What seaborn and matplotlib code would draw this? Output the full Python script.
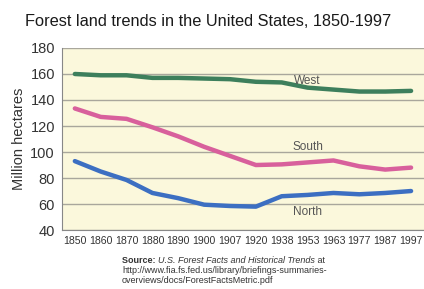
import numpy as np
import pandas as pd
import matplotlib
matplotlib.use('Agg')
import matplotlib.pyplot as plt
import seaborn as sns

years = ['1850', '1860', '1870', '1880', '1890', '1900', '1907',
         '1920', '1938', '1953', '1963', '1977', '1987', '1997']
west = [160, 159, 159, 157, 157, 156.5, 156, 154, 153.5, 149.5, 148, 146.5, 146.5, 147]
south = [133.5, 127, 125.5, 119, 112, 104, 97, 90, 90.5, 92, 93.5, 89, 86.5, 88]
north = [93, 85, 78.5, 68.5, 64.5, 59.5, 58.5, 58, 66, 67, 68.5, 67.5, 68.5, 70]
regions = ['West', 'South', 'North']
colors = {'West': '#3d7f5c', 'South': '#d8609c', 'North': '#3c6fc2'}

df = pd.DataFrame({
    'year': years * 3,
    'hectares': west + south + north,
    'region': np.repeat(regions, len(years)),
})

sns.set_style('white')
plt.rcParams['font.family'] = ['Liberation Sans', 'DejaVu Sans']

fig = plt.figure(figsize=(4.24, 2.89), dpi=100)
ax = fig.add_axes([0.146, 0.204, 0.854, 0.630])
ax.set_facecolor('#fbf8dc')

sns.lineplot(data=df, x='year', y='hectares', hue='region', palette=colors,
             linewidth=3.2, legend=False, ax=ax, sort=False)

ax.set_xlim(-0.5, len(years) - 0.5)
ax.set_ylim(40, 180)
ax.set_yticks(range(40, 181, 20))
ax.grid(True, axis='y', color='#a9a79c', linewidth=1)
ax.set_axisbelow(True)
ax.set_xticks(np.arange(len(years)))
ax.set_xticklabels(years, fontsize=7.6, color='#333333')
ax.set_xticks(np.arange(len(years)) + 0.5, minor=True)
ax.tick_params(axis='x', which='major', length=0, pad=4)
ax.tick_params(axis='x', which='minor', length=3, color='#777777')
ax.tick_params(axis='y', length=4, color='#777777', labelsize=10.5, labelcolor='#333333', pad=1)
for s in ['right', 'top']:
    ax.spines[s].set_visible(False)
for s in ['left', 'bottom']:
    ax.spines[s].set_color('#888888')
    ax.spines[s].set_linewidth(0.8)
ax.set_xlabel('')
ax.set_ylabel('Million hectares', fontsize=10.5, color='#333333', labelpad=3)

ax.text(years.index('1953'), 154.5, 'West', ha='center', va='center', fontsize=8.5, color='#555555')
ax.text(years.index('1953'), 103.5, 'South', ha='center', va='center', fontsize=8.5, color='#555555')
ax.text(years.index('1953'), 54, 'North', ha='center', va='center', fontsize=8.5, color='#555555')

fig.text(0.06, 0.925, 'Forest land trends in the United States, 1850-1997',
         fontsize=11.8, color='#1a1a1a', ha='left', va='center')

src = dict(fontsize=6.5, color='#333333')
t1 = fig.text(0.288, 0.098, 'Source: ', fontweight='bold', va='center', **src)
t2 = ax.annotate('U.S. Forest Facts and Historical Trends', xy=(1, 0), xycoords=t1,
                 style='italic', va='bottom', annotation_clip=False, **src)
ax.annotate(' at', xy=(1, 0), xycoords=t2, va='bottom', annotation_clip=False, **src)
fig.text(0.288, 0.064, 'http://www.fia.fs.fed.us/library/briefings-summaries-', va='center', **src)
fig.text(0.288, 0.031, 'overviews/docs/ForestFactsMetric.pdf', va='center', **src)

fig.savefig('out.png', dpi=100)
